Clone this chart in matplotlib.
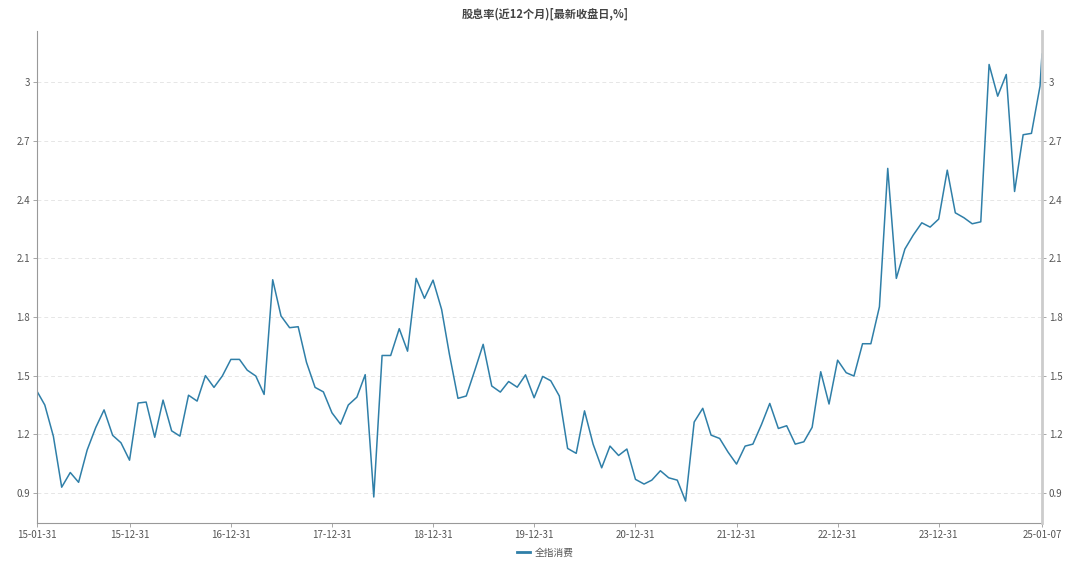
import numpy as np
import pandas as pd
import matplotlib
matplotlib.use("Agg")
import matplotlib.pyplot as plt
import matplotlib.dates as mdates

plt.rcParams['font.family'] = ['Noto Sans CJK SC', 'DejaVu Sans']

# Data: month-end dates plus the latest close
dates = list(pd.date_range("2015-01-31", "2024-12-31", freq="ME")) + [pd.Timestamp("2025-01-07")]
dividend_yield = [
    1.42, 1.35, 1.19, 0.93, 1.005, 0.955, 1.12, 1.235, 1.325, 1.195, 1.157, 1.068,
    1.36, 1.365, 1.185, 1.375, 1.218, 1.191, 1.40, 1.37, 1.50, 1.44, 1.498, 1.583,
    1.583, 1.528, 1.498, 1.404, 1.99, 1.805, 1.745, 1.75, 1.568, 1.44, 1.417, 1.31,
    1.252, 1.35, 1.39, 1.505, 0.88, 1.603, 1.603, 1.74, 1.625, 1.997, 1.895, 1.988,
    1.838, 1.61, 1.384, 1.396, 1.528, 1.66, 1.447, 1.416, 1.47, 1.441, 1.504, 1.387,
    1.496, 1.474, 1.396, 1.128, 1.103, 1.32, 1.15, 1.029, 1.14, 1.092, 1.125, 0.97,
    0.946, 0.966, 1.014, 0.978, 0.966, 0.859, 1.263, 1.333, 1.196, 1.179, 1.11, 1.048,
    1.14, 1.15, 1.25, 1.358, 1.23, 1.244, 1.15, 1.162, 1.236, 1.52, 1.355, 1.579,
    1.515, 1.498, 1.663, 1.663, 1.852, 2.559, 1.997, 2.147, 2.218, 2.281, 2.259, 2.30,
    2.55, 2.332, 2.307, 2.276, 2.286, 3.09, 2.928, 3.039, 2.441, 2.731, 2.738, 2.98,
    3.143,
]
series_name = "全指消费"
title = "股息率(近12个月)[最新收盘日,%]"
y_ticks = [0.9, 1.2, 1.5, 1.8, 2.1, 2.4, 2.7, 3.0]
y_tick_labels = ["0.9", "1.2", "1.5", "1.8", "2.1", "2.4", "2.7", "3"]
x_tick_dates = [pd.Timestamp("2015-01-31")] + \
    [pd.Timestamp(f"{y}-12-31") for y in range(2015, 2024)] + [pd.Timestamp("2025-01-07")]

text_color = "#555555"
line_color = "#2f7fa8"

fig = plt.figure(figsize=(10.8, 5.67), dpi=100)
ax = fig.add_axes([0.0343, 0.0776, 0.9305, 0.8677])

ax.plot(dates, dividend_yield, color=line_color, linewidth=1.1, label=series_name)

ax.set_xlim(dates[0], dates[-1])
ax.set_ylim(0.747, 3.261)
ax.set_yticks(y_ticks)
ax.set_yticklabels(y_tick_labels)
ax.set_xticks(x_tick_dates)
ax.xaxis.set_major_formatter(mdates.DateFormatter("%y-%m-%d"))

ax.grid(axis="y", linestyle=(0, (4, 3)), color="#e6e6e6", linewidth=0.7)
ax.grid(axis="x", visible=False)
ax.set_axisbelow(True)

for s in ["top"]:
    ax.spines[s].set_visible(False)
ax.spines["right"].set_visible(False)
ax.spines["left"].set_color("#999999")
ax.spines["bottom"].set_color("#999999")
ax.spines["left"].set_linewidth(0.8)
ax.spines["bottom"].set_linewidth(0.8)
ax.tick_params(axis="both", labelsize=7, colors=text_color, length=3, width=0.6, pad=2)
ax.tick_params(axis="both", color="#999999")

# right axis, same scale
ax2 = ax.twinx()
ax2.set_ylim(ax.get_ylim())
ax2.set_yticks(y_ticks)
ax2.set_yticklabels(y_tick_labels)
for s in ["top", "left", "bottom"]:
    ax2.spines[s].set_visible(False)
ax2.spines["right"].set_color("#cccccc")
ax2.spines["right"].set_linewidth(2)
ax2.tick_params(axis="y", labelsize=7, colors=text_color, length=3, width=0.6, pad=2)
ax2.tick_params(axis="y", color="#999999")

fig.text(0.505, 0.975, title, ha="center", va="center", fontsize=8,
         fontweight="bold", color="#444444")

handles, labels = ax.get_legend_handles_labels()
leg = fig.legend(handles, labels, loc="center", bbox_to_anchor=(0.505, 0.025),
                 frameon=False, fontsize=7, handlelength=1.4, handletextpad=0.5)
for t in leg.get_texts():
    t.set_color(text_color)
for l in leg.get_lines():
    l.set_linewidth(2)

fig.savefig("out.png", dpi=100)
